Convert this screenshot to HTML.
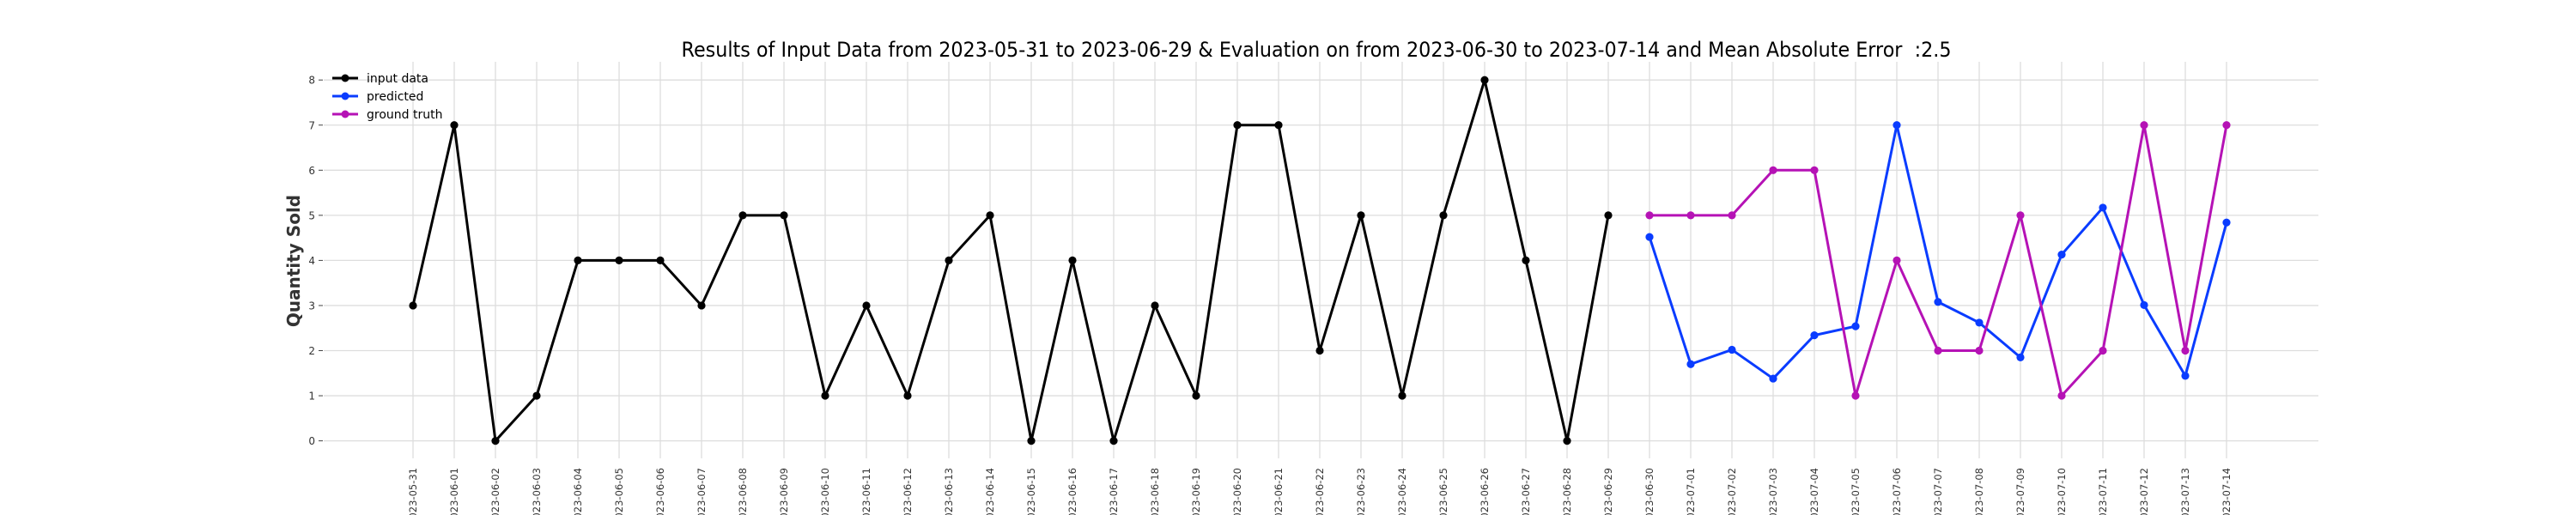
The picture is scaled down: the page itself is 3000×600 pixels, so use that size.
<!DOCTYPE html>
<html><head><meta charset="utf-8"><style>
html,body{margin:0;padding:0;background:#fff;}
svg{display:block;font-family:"DejaVu Sans","Liberation Sans",sans-serif;}
</style></head><body>
<svg id="chart" width="3000" height="600" viewBox="0 0 3000 600" xmlns="http://www.w3.org/2000/svg">
<text x="1533" y="66" text-anchor="middle" font-size="24" textLength="1479" lengthAdjust="spacingAndGlyphs" fill="#000">Results of Input Data from 2023-05-31 to 2023-06-29 &amp; Evaluation on from 2023-06-30 to 2023-07-14 and Mean Absolute Error&#160; :2.5</text>
<text transform="translate(349,304) rotate(-90)" text-anchor="middle" font-size="20" font-weight="bold" fill="#333">Quantity Sold</text>
<g id="grid"></g>
<g id="axes"></g>
<g id="series"></g>
<g font-size="14">
  <g><line x1="387" y1="91" x2="417" y2="91" stroke="#000" stroke-width="3"/><circle cx="402" cy="91" r="4.5" fill="#000"/><text x="427" y="96">input data</text></g>
  <g><line x1="387" y1="112" x2="417" y2="112" stroke="#0a3cff" stroke-width="3"/><circle cx="402" cy="112" r="4.5" fill="#0a3cff"/><text x="427" y="117">predicted</text></g>
  <g><line x1="387" y1="133" x2="417" y2="133" stroke="#b512b5" stroke-width="3"/><circle cx="402" cy="133" r="4.5" fill="#b512b5"/><text x="427" y="138">ground truth</text></g>
</g>
</svg>
<script>
const dates = ["2023-05-31","2023-06-01","2023-06-02","2023-06-03","2023-06-04","2023-06-05","2023-06-06","2023-06-07","2023-06-08","2023-06-09","2023-06-10","2023-06-11","2023-06-12","2023-06-13","2023-06-14","2023-06-15","2023-06-16","2023-06-17","2023-06-18","2023-06-19","2023-06-20","2023-06-21","2023-06-22","2023-06-23","2023-06-24","2023-06-25","2023-06-26","2023-06-27","2023-06-28","2023-06-29","2023-06-30","2023-07-01","2023-07-02","2023-07-03","2023-07-04","2023-07-05","2023-07-06","2023-07-07","2023-07-08","2023-07-09","2023-07-10","2023-07-11","2023-07-12","2023-07-13","2023-07-14"];
const inputValues = [3,7,0,1,4,4,4,3,5,5,1,3,1,4,5,0,4,0,3,1,7,7,2,5,1,5,8,4,0,5];
const predictedValues = [4.52,1.70,2.02,1.38,2.34,2.54,7.0,3.08,2.62,1.85,4.13,5.17,3.01,1.44,4.84];
const truthValues = [5,5,5,6,6,1,4,2,2,5,1,2,7,2,7];
const yTicks = [0,1,2,3,4,5,6,7,8];
const inputStart = 0, forecastStart = 30;

const NS="http://www.w3.org/2000/svg";
const x = i => 481 + i*48.0;
const y = v => 513.6 - v*52.55;
function mk(tag, attrs, parent){const e=document.createElementNS(NS,tag);for(const k in attrs)e.setAttribute(k,attrs[k]);parent.appendChild(e);return e;}
const grid=document.getElementById('grid'), axes=document.getElementById('axes'), series=document.getElementById('series');
yTicks.forEach(t=>{
  const l=mk('line',{x1:377,x2:2700,y1:y(t),y2:y(t),stroke:'#dddddd','stroke-width':1.3},grid);
  
  
  const tk=mk('line',{x1:371,x2:376,y1:y(t),y2:y(t),stroke:'#444','stroke-width':1},axes);
  
  
  const tx=mk('text',{x:367,y:y(t)+4.5,'text-anchor':'end','font-size':12,fill:'#333'},axes);
  
  
  tx.textContent=t;
});
dates.forEach((d,i)=>{
  const l=mk('line',{x1:x(i),x2:x(i),y1:72,y2:534,stroke:'#dddddd','stroke-width':1.3},grid);
  
  
  const tx=mk('text',{transform:`translate(${x(i)+4},545) rotate(-90)`,'text-anchor':'end','font-size':11.5,fill:'#333'},axes);
  
  
  tx.textContent=d;
});
function draw(vals,start,color,name){
  const pts=vals.map((v,i)=>x(start+i)+','+y(v)).join(' ');
  const pl=mk('polyline',{points:pts,fill:'none',stroke:color,'stroke-width':3,'stroke-linejoin':'round'},series);
  
  
  vals.forEach((v,i)=>{
    const c=mk('circle',{cx:x(start+i),cy:y(v),r:4.6,fill:color},series);
    
    
  });
}
draw(inputValues,inputStart,'#000','input-data');
draw(predictedValues,forecastStart,'#0a3cff','predicted');
draw(truthValues,forecastStart,'#b512b5','ground-truth');
</script>
</body></html>
